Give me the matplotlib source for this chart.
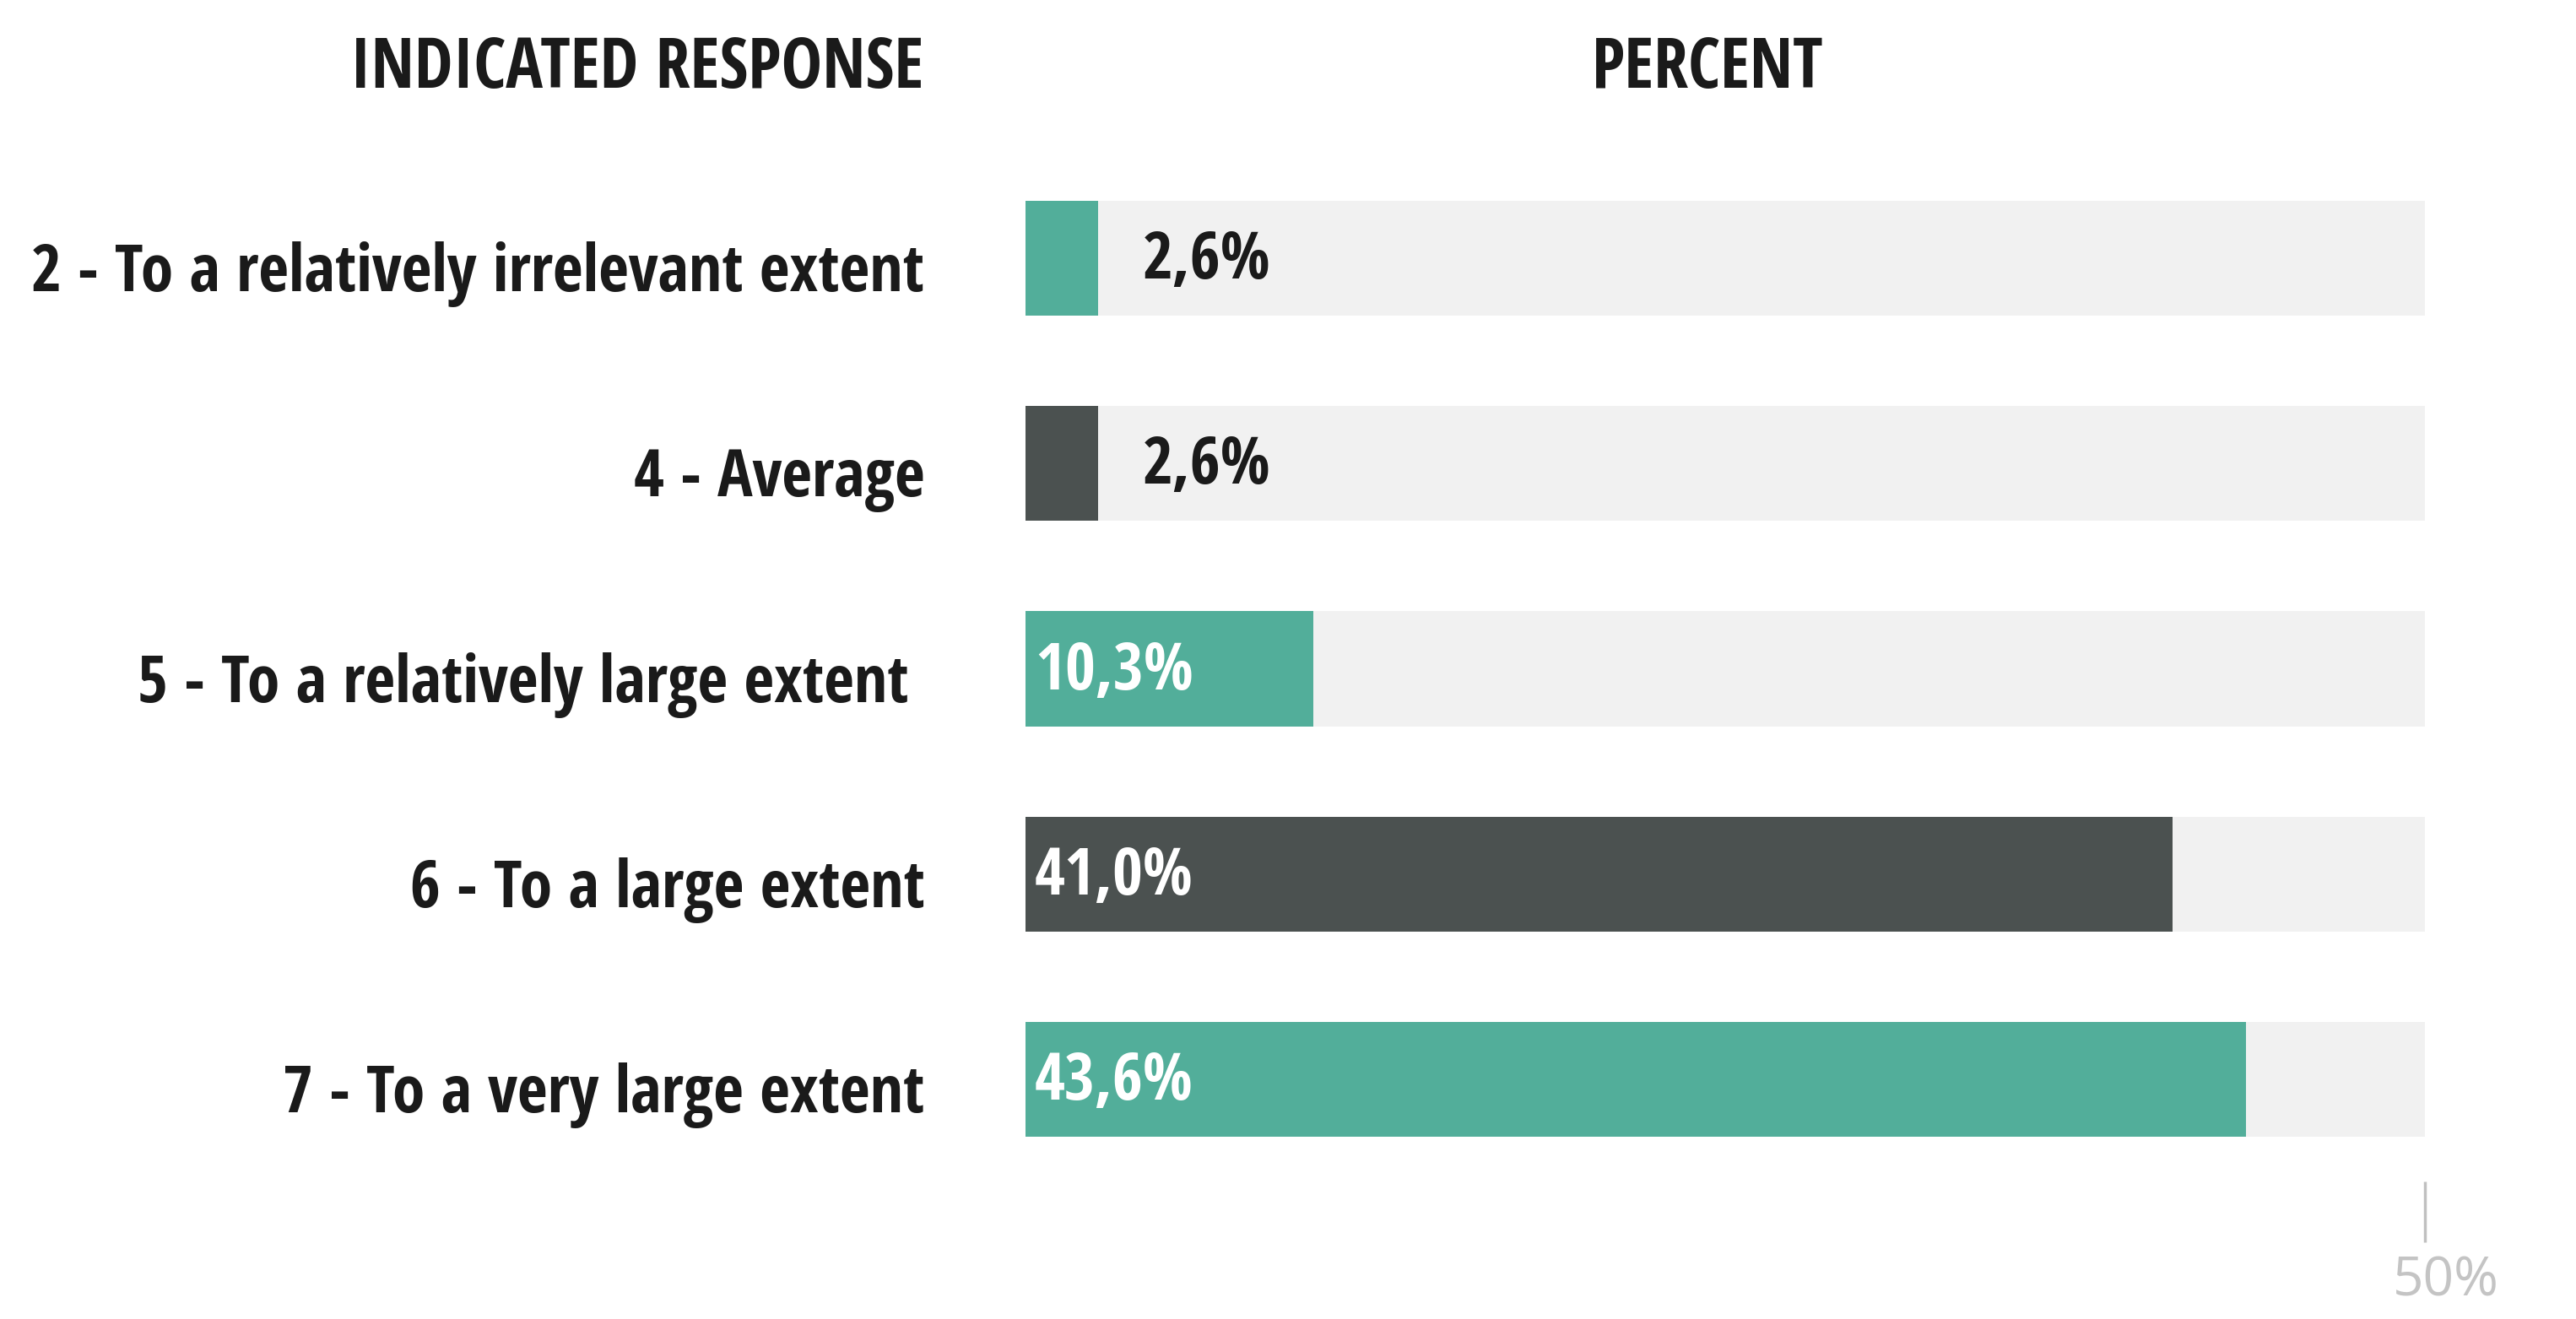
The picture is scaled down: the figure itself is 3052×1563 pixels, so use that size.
import matplotlib.pyplot as plt
from matplotlib.transforms import ScaledTranslation

# Données
categories = [
    '2 - To a relatively irrelevant extent',
    '4 - Average',
    '5 - To a relatively large extent ',
    '6 - To a large extent',
    '7 - To a very large extent',
]
percent = [2.6, 2.6, 10.3, 41.0, 43.6]
value_labels = ['2,6%', '2,6%', '10,3%', '41,0%', '43,6%']
bar_colors = ['#52ae9a', '#4b5150', '#52ae9a', '#4b5150', '#52ae9a']
x_max = 50
x_ticks = [50]
x_tick_labels = ['50%']

plt.rcParams['font.family'] = ['Open Sans Condensed', 'DejaVu Sans']

fig = plt.figure(figsize=(30.52, 15.63), dpi=100)
ax = fig.add_axes([0.398, 0.104, 0.5433, 0.778])

y = list(range(len(categories)))
ax.barh(y, [x_max] * len(y), height=0.56, color='#f1f1f1', zorder=1)
ax.barh(y, percent, height=0.56, color=bar_colors, zorder=2)

for i, (v, lab) in enumerate(zip(percent, value_labels)):
    if v < 5:
        ax.annotate(lab, (v, i), xytext=(38, -3), textcoords='offset points',
                    ha='left', va='center', fontsize=56, fontweight='bold', color='#1a1a1a', zorder=3)
    else:
        ax.annotate(lab, (0, i), xytext=(8, -3), textcoords='offset points',
                    ha='left', va='center', fontsize=56, fontweight='bold', color='white', zorder=3)

ax.set_xlim(0, x_max)
ax.set_ylim(len(y) - 0.5, -0.5)
ax.set_yticks(y)
ax.set_yticklabels(categories, fontsize=56, fontweight='bold', color='#1a1a1a')
ax.tick_params(axis='y', length=0, pad=86)
decal_y = ScaledTranslation(0, -7 / 72, fig.dpi_scale_trans)
for t in ax.get_yticklabels():
    t.set_transform(t.get_transform() + decal_y)

ax.set_xticks(x_ticks)
ax.set_xticklabels(x_tick_labels, fontsize=46, color='#c4c4c4',
                   family=['Open Sans', 'DejaVu Sans'])
ax.tick_params(axis='x', length=52, width=2.5, color='#c0c0c0', pad=10)
decal_x = ScaledTranslation(18 / 72, 0, fig.dpi_scale_trans)
for t in ax.get_xticklabels():
    t.set_transform(t.get_transform() + decal_x)
for s in ax.spines.values():
    s.set_visible(False)

fig.text(0.3584, 0.947, 'INDICATED RESPONSE', ha='right', va='center',
         fontsize=59, fontweight='bold', color='#1a1a1a')
fig.text(0.663, 0.947, 'PERCENT', ha='center', va='center',
         fontsize=59, fontweight='bold', color='#1a1a1a')

plt.savefig('out.png', dpi=100)
